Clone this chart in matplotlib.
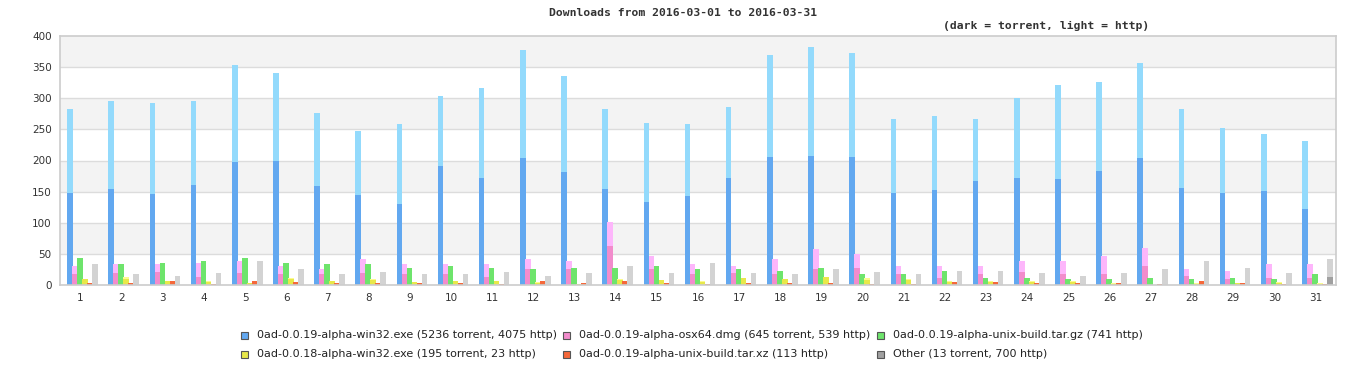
import numpy as np
import matplotlib
matplotlib.use("Agg")
import matplotlib.pyplot as plt
from matplotlib.patches import Rectangle

# daily download counts, March 2016
days = list(range(1, 32))

win32_torrent = [148, 154, 146, 160, 197, 200, 159, 144, 130, 191, 172, 204, 181, 154, 133, 143,
                 172, 205, 208, 205, 148, 152, 167, 172, 170, 183, 204, 156, 148, 151, 122]
win32_total = [282, 295, 292, 295, 353, 340, 277, 247, 258, 303, 316, 377, 335, 282, 260, 258,
               286, 369, 383, 372, 266, 271, 266, 300, 321, 326, 356, 282, 252, 242, 231]
win32_http = [t - d for t, d in zip(win32_total, win32_torrent)]

osx_torrent = [17, 20, 21, 13, 20, 17, 17, 20, 17, 18, 13, 25, 25, 62, 25, 17,
               20, 18, 25, 28, 17, 12, 17, 21, 17, 18, 30, 15, 10, 12, 12]
osx_total = [31, 33, 33, 36, 39, 31, 26, 41, 34, 34, 33, 41, 39, 102, 47, 33,
             30, 42, 58, 49, 31, 31, 31, 38, 39, 46, 60, 25, 23, 34, 34]
osx_http = [t - d for t, d in zip(osx_total, osx_torrent)]

targz_http = [44, 33, 36, 38, 44, 36, 33, 34, 28, 30, 28, 26, 28, 28, 30, 25,
              25, 23, 28, 18, 18, 23, 12, 12, 10, 10, 12, 10, 12, 10, 17]

old_torrent = [10, 10, 7, 5, 4, 10, 7, 8, 5, 7, 7, 4, 2, 8, 8, 5,
               12, 10, 13, 8, 8, 5, 5, 5, 5, 2, 0, 2, 4, 4, 2]
old_http = [0, 3, 0, 2, 0, 2, 0, 2, 0, 0, 0, 1, 0, 2, 0, 2,
            0, 0, 0, 4, 2, 2, 2, 2, 2, 2, 0, 2, 0, 1, 2]

tarxz_http = [3, 3, 7, 2, 7, 5, 3, 3, 3, 3, 2, 7, 3, 7, 3, 2,
              3, 3, 3, 2, 2, 5, 5, 3, 3, 3, 2, 7, 3, 2, 2]

other_torrent = [0] * 30 + [13]
other_http = [34, 18, 15, 20, 39, 26, 18, 21, 17, 18, 21, 15, 20, 30, 20, 36,
              20, 18, 26, 21, 17, 23, 23, 20, 15, 20, 26, 39, 28, 20, 28]

labels = ["0ad-0.0.19-alpha-win32.exe (5236 torrent, 4075 http)",
          "0ad-0.0.19-alpha-osx64.dmg (645 torrent, 539 http)",
          "0ad-0.0.19-alpha-unix-build.tar.gz (741 http)",
          "0ad-0.0.18-alpha-win32.exe (195 torrent, 23 http)",
          "0ad-0.0.19-alpha-unix-build.tar.xz (113 http)",
          "Other (13 torrent, 700 http)"]

# (torrent, http, dark colour, light colour)
series = [
    (win32_torrent, win32_http, "#62a8f0", "#93dafc"),
    (osx_torrent, osx_http, "#f28ccc", "#fdb6fb"),
    ([0] * 31, targz_http, "#6ee46c", "#6ee46c"),
    (old_torrent, old_http, "#e8e84a", "#fbfb90"),
    ([0] * 31, tarxz_http, "#f5683a", "#f5683a"),
    (other_torrent, other_http, "#a0a0a0", "#d3d3d3"),
]

W, H = 1366, 380
fig = plt.figure(figsize=(W / 100, H / 100), dpi=100)
ax = fig.add_axes([60 / W, 95 / H, 1276 / W, 249 / H])

x = np.arange(len(days))
step = 5 / 41.16
width = 5.6 / 41.16

# alternating background bands + grid
for lo in range(0, 400, 50):
    if (lo // 50) % 2 == 1:
        ax.axhspan(lo, lo + 50, color="#f3f3f3", zorder=0, lw=0)
for y in range(50, 400, 50):
    ax.axhline(y, color="#dcdcdc", lw=1, zorder=1)

for k, (tor, http, dark, light) in enumerate(series):
    pos = x + (k - 2.1) * step
    ax.bar(pos, tor, width=width, color=dark, lw=0, zorder=2)
    ax.bar(pos, http, width=width, bottom=tor, color=light, lw=0, zorder=2)

ax.set_xlim(-0.5, len(days) - 0.5)
ax.set_ylim(0, 400)
ax.set_yticks(range(0, 401, 50))
ax.set_xticks(x)
ax.set_xticklabels([str(d) for d in days])
ax.tick_params(length=0, labelsize=7.5, colors="#333333", pad=6)
for s in ax.spines.values():
    s.set_color("#cccccc")
    s.set_linewidth(1.2)

mono = dict(family="DejaVu Sans Mono", weight="bold", size=8.2, color="#333333")
fig.text(683 / W, 1 - 13 / H, "Downloads from 2016-03-01 to 2016-03-31", ha="center", va="center", **mono)
fig.text(943 / W, 1 - 26 / H, "(dark = torrent, light = http)", ha="left", va="center", **mono)

# legend, laid out in three fixed-width columns like the original
col_x = [244, 566, 880]
row_y = [335, 354]
for i, lab in enumerate(labels):
    cx, cy = col_x[i % 3], row_y[i // 3]
    fig.patches.append(Rectangle(((cx - 3.5) / W, 1 - (cy + 3.5) / H), 7 / W, 7 / H,
                                 transform=fig.transFigure, facecolor=series[i][2],
                                 edgecolor="#555555", lw=0.8))
    fig.text((cx + 13) / W, 1 - cy / H, lab, ha="left", va="center",
             family=["Liberation Sans Narrow", "DejaVu Sans"], size=8, color="#222222")

fig.savefig("out.png", dpi=100)
